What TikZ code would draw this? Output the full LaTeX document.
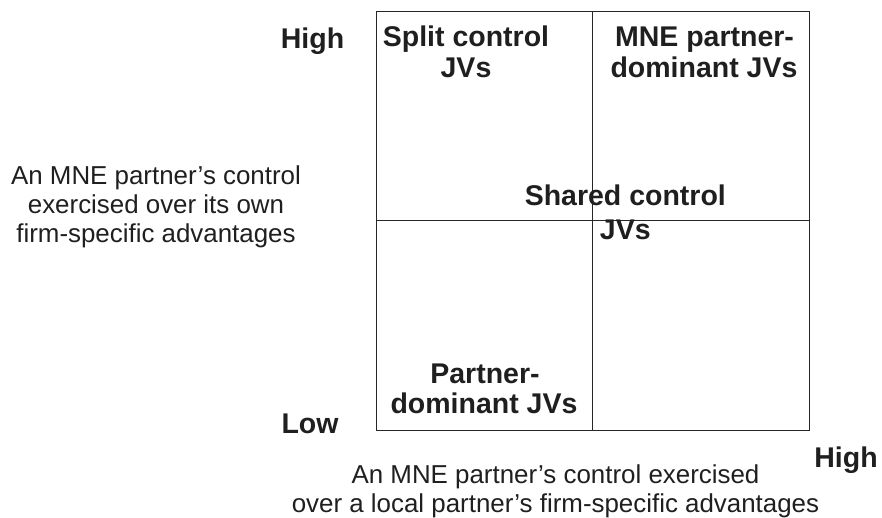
\documentclass[tikz,border=0pt]{standalone}
\usepackage{fontspec}
\setmainfont{Liberation Sans}
\begin{document}
\begin{tikzpicture}[x=1pt,y=-1pt,
  boldlbl/.style={font=\fontsize{28.5}{32}\selectfont\bfseries, text=black!88, inner sep=0pt, anchor=base},
  reglbl/.style={font=\fontsize{25.9}{30}\selectfont, text=black!88, inner sep=0pt, anchor=base},
  gridline/.style={draw=black!85, line width=1pt}]
\useasboundingbox (0,0) rectangle (882,518);
% matrix frame
\coordinate (tl) at (376,11.5);
\coordinate (br) at (809,430);
\coordinate (mt) at (592.7,11.5);
\coordinate (mb) at (592.7,430);
\coordinate (ml) at (376,220.7);
\coordinate (mr) at (809,220.7);
\draw[gridline] (tl) rectangle (br);
\draw[gridline] (mt) -- (mb);
\draw[gridline] (ml) -- (mr);
% axis labels
\node[boldlbl] (yhigh) at (312.5,49) {High};
\node[boldlbl] (ylow) at (310,433) {Low};
\node[boldlbl] (xhigh) at (846,467) {High};
\node[reglbl] (ya1) at (156,185) {An MNE partner’s control};
\node[reglbl] (ya2) at (156,214) {exercised over its own};
\node[reglbl] (ya3) at (156,243) {firm-specific advantages};
\node[reglbl] (xa1) at (555.5,483) {An MNE partner’s control exercised};
\node[reglbl] (xa2) at (555.5,512) {over a local partner’s firm-specific advantages};
% quadrant labels
\node[boldlbl] (sc1) at (466,47) {Split control};
\node[boldlbl] (sc2) at (466,78) {JVs};
\node[boldlbl] (md1) at (704.5,47) {MNE partner-};
\node[boldlbl] (md2) at (704,78) {dominant JVs};
\node[boldlbl] (sh1) at (625.3,206) {Shared control};
\node[boldlbl] (sh2) at (625.3,240) {JVs};
\node[boldlbl] (pd1) at (485,383) {Partner-};
\node[boldlbl] (pd2) at (484,413) {dominant JVs};
\end{tikzpicture}
\end{document}
